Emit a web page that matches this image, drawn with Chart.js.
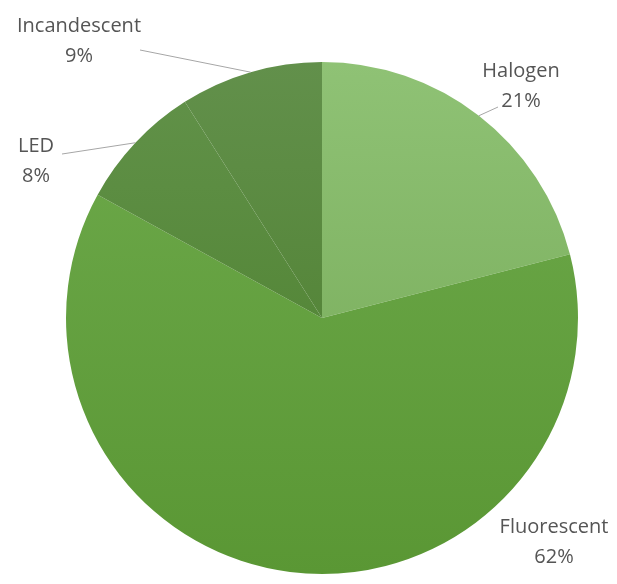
<!DOCTYPE html>
<html>
<head>
<meta charset="utf-8">
<script src="https://cdn.jsdelivr.net/npm/chart.js@4.4.0/dist/chart.umd.min.js"></script>
<style>
    html, body { margin: 0; padding: 0; background: #ffffff; }
    #wrap { width: 617px; height: 584px; }
</style>
</head>
<body>
<div id="wrap"><canvas id="lamp-chart"></canvas></div>
<script>
const categories = ["Halogen", "Fluorescent", "LED", "Incandescent"];
const shares = [21, 62, 8, 9];
const percentLabels = ["21%", "62%", "8%", "9%"];

// top / bottom colours of each slice's vertical gradient
const topColors = ["#8fc275", "#6eaa4c", "#62924a", "#62904b"];
const bottomColors = ["#72a653", "#5a9734", "#497d29", "#497c29"];

// label placement relative to the pie centre (line 1 baseline), plus leader start
const labelPlacement = [
    { dx: 199, dy: -241, lx: 176, ly: -211 },
    { dx: 232, dy: 215, lx: null, ly: null },
    { dx: -286, dy: -166, lx: -260, ly: -164 },
    { dx: -243, dy: -286, lx: -182, ly: -268 }
];

function sliceGradient(context) {
    const chart = context.chart;
    const area = chart.chartArea;
    if (!area) {
        return topColors[context.dataIndex];
    }
    const g = chart.ctx.createLinearGradient(0, area.top, 0, area.bottom);
    g.addColorStop(0, topColors[context.dataIndex]);
    g.addColorStop(1, bottomColors[context.dataIndex]);
    return g;
}

const outsideLabels = {
    id: "outsideLabels",
    afterDatasetsDraw(chart) {
        const ctx = chart.ctx;
        const meta = chart.getDatasetMeta(0);
        ctx.save();
        ctx.font = "20px 'Open Sans', sans-serif";
        ctx.fillStyle = "#555555";
        ctx.textAlign = "center";
        ctx.textBaseline = "alphabetic";
        meta.data.forEach((arc, i) => {
            const p = labelPlacement[i];
            const cx = arc.x;
            const cy = arc.y;
            if (p.lx !== null) {
                const mid = (arc.startAngle + arc.endAngle) / 2;
                const ex = cx + Math.cos(mid) * arc.outerRadius;
                const ey = cy + Math.sin(mid) * arc.outerRadius;
                ctx.beginPath();
                ctx.strokeStyle = "#a6a6a6";
                ctx.lineWidth = 1;
                ctx.moveTo(cx + p.lx, cy + p.ly);
                ctx.lineTo(ex, ey);
                ctx.stroke();
            }
            ctx.fillText(categories[i], cx + p.dx, cy + p.dy);
            ctx.fillText(percentLabels[i], cx + p.dx, cy + p.dy + 30);
        });
        ctx.restore();
    }
};

new Chart(document.getElementById("lamp-chart"), {
    type: "pie",
    data: {
        labels: categories,
        datasets: [{
            data: shares,
            backgroundColor: sliceGradient,
            borderWidth: 0
        }]
    },
    options: {
        responsive: true,
        maintainAspectRatio: false,
        animation: false,
        layout: {
            padding: { left: 66, right: 39, top: 62, bottom: 10 }
        },
        plugins: {
            legend: { display: false },
            tooltip: { enabled: false }
        }
    },
    plugins: [outsideLabels]
});
</script>
</body>
</html>
